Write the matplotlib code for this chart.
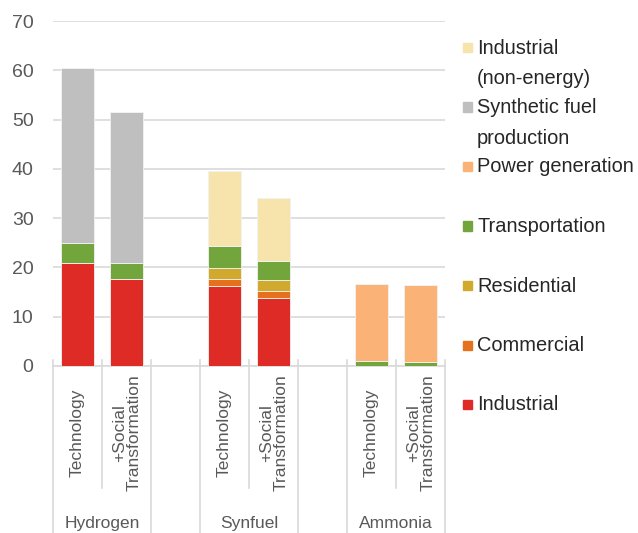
import matplotlib
matplotlib.use("Agg")
import matplotlib.pyplot as plt
import matplotlib.patches as mpatches
import numpy as np

plt.rcParams['font.family'] = ['Liberation Sans', 'DejaVu Sans']

# slots: bar positions on the category axis (blank slots between groups)
bar_slots = [0, 1, 3, 4, 6, 7]
scenario_labels = ["Technology", "+Social\nTransformation"] * 3
groups = ["Hydrogen", "Synfuel", "Ammonia"]

# stacked series, bottom to top
series = ["Industrial", "Commercial", "Residential", "Transportation",
          "Power generation", "Synthetic fuel production", "Industrial (non-energy)"]
industrial = [20.8, 17.6, 16.2, 13.8, 0.0, 0.0]
commercial = [0.0, 0.0, 1.4, 1.4, 0.0, 0.0]
residential = [0.0, 0.0, 2.2, 2.2, 0.0, 0.0]
transportation = [4.1, 3.2, 4.5, 3.9, 1.0, 0.8]
power_generation = [0.0, 0.0, 0.0, 0.0, 15.7, 15.7]
synthetic_fuel = [35.6, 30.8, 0.0, 0.0, 0.0, 0.0]
industrial_nonenergy = [0.0, 0.0, 15.3, 12.8, 0.0, 0.0]

colors = ['#DF2B26', '#E5711C', '#D1A92D', '#72A53C', '#FBB277', '#BFBFBF', '#F6E4AC']
legend_labels = ["Industrial\n(non-energy)", "Synthetic fuel\nproduction", "Power generation",
                 "Transportation", "Residential", "Commercial", "Industrial"]

W, H = 638, 533
fig = plt.figure(figsize=(W / 100, H / 100), dpi=100)
ax = fig.add_axes([53 / W, (H - 366) / H, 392 / W, 345 / H])

values = [industrial, commercial, residential, transportation,
          power_generation, synthetic_fuel, industrial_nonenergy]
bottom = np.zeros(len(bar_slots))
for vals, col in zip(values, colors):
    ax.bar(bar_slots, vals, width=0.66, bottom=bottom, color=col,
           edgecolor='#f2f2f2', linewidth=0.6, zorder=3)
    bottom += np.array(vals)

ax.set_xlim(-0.5, 7.5)
ax.set_ylim(0, 70)
ax.set_yticks(range(0, 71, 10))
ax.tick_params(axis='y', length=0, pad=14, labelsize=14, labelcolor='#595959')
ax.set_xticks([])
ax.grid(axis='y', color='#d9d9d9', linewidth=1.2, zorder=0)
for s in ['top', 'right', 'left']:
    ax.spines[s].set_visible(False)
ax.spines['bottom'].set_color('#d9d9d9')
ax.spines['bottom'].set_linewidth(1.2)

# category axis separators
trans = ax.get_xaxis_transform()
short_lines = [0.5, 3.5, 6.5]
long_lines = [-0.5, 1.5, 2.5, 4.5, 5.5, 7.5]
for x in short_lines:
    ax.plot([x, x], [0.017, -0.354], color='#d9d9d9', lw=1.2, transform=trans, clip_on=False)
for x in long_lines:
    ax.plot([x, x], [0.017, -0.6], color='#d9d9d9', lw=1.2, transform=trans, clip_on=False)

for x, lab in zip(bar_slots, scenario_labels):
    ax.text(x, -0.194, lab, rotation=90, ha='center', va='center', multialignment='center',
            fontsize=12.5, color='#595959', transform=trans, linespacing=0.95)

for i, g in enumerate(groups):
    ax.text(bar_slots[2 * i] + 0.5, -0.436, g, ha='center', va='top',
            fontsize=12.5, color='#595959', transform=trans)

# legend drawn by hand, Excel style
legend_colors = colors[::-1]
for i, (lab, col) in enumerate(zip(legend_labels, legend_colors)):
    py = 47 + 59.5 * i
    fig.patches.append(mpatches.Rectangle(((463) / W, 1 - (py + 5) / H), 9 / W, 9 / H,
                                          transform=fig.transFigure, color=col))
    for j, line in enumerate(lab.split("\n")):
        fig.text(477 / W, 1 - (py + 1 + 31 * j) / H, line, ha='left', va='center',
                 fontsize=14.4, color='#262626')

fig.savefig("out.png", dpi=100)
